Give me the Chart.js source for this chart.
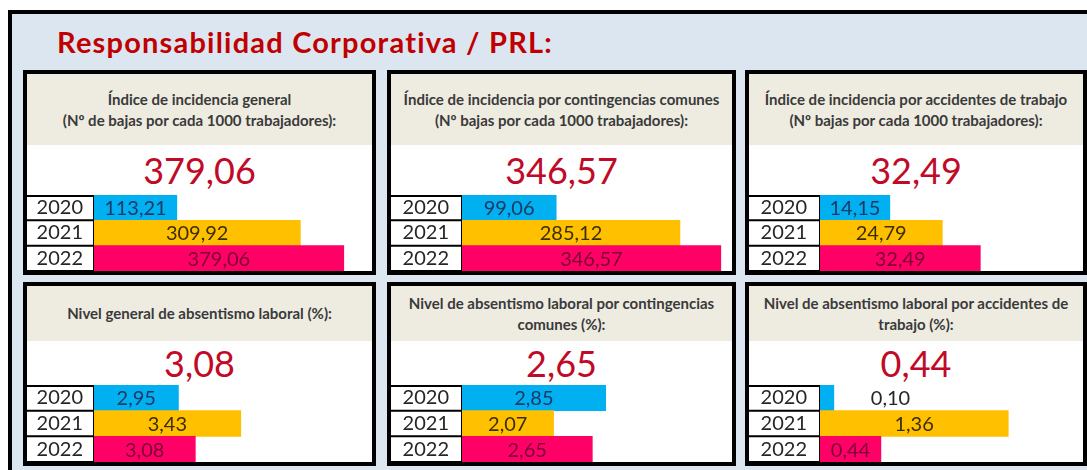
<!DOCTYPE html>
<html lang="es">
<head>
<meta charset="utf-8">
<title>Responsabilidad Corporativa / PRL</title>
<script src="https://cdn.jsdelivr.net/npm/chart.js@4.4.1/dist/chart.umd.min.js"></script>
<style>
  html, body { margin: 0; padding: 0; width: 1087px; height: 470px; overflow: hidden; background: #fff; font-family: Lato, sans-serif; }
  #frame { position: absolute; left: 8px; top: 10px; width: 1200px; height: 600px; border: 4px solid #000; background: #dce6f1; box-sizing: border-box; }
  #title { position: absolute; left: 57px; top: 27px; font: bold 29px/29px Lato, sans-serif; letter-spacing: 1.2px; color: #c00000; white-space: nowrap; }
  .panel { position: absolute; border: 4px solid #000; background: #fff; box-sizing: border-box; }
  .head { position: absolute; left: 0; right: 0; top: 0; background: #eeece1; display: flex; align-items: center; justify-content: center; text-align: center; font-weight: bold; font-size: 15px; line-height: 21px; color: #3a3a3a; }
  .big { position: absolute; left: 0; right: 0; text-align: center; font-size: 36px; line-height: 36px; color: #c00a28; }
  .panel canvas { position: absolute; left: 0; }
</style>
</head>
<body>
<div id="frame"></div>
<div id="title">Responsabilidad Corporativa / PRL:</div>
<div id="panels"></div>

<script>
// data
const years = ['2020', '2021', '2022'];
const incidenciaGeneral = [113.21, 309.92, 379.06];
const incidenciaComunes = [99.06, 285.12, 346.57];
const incidenciaAccidentes = [14.15, 24.79, 32.49];
const absentismoGeneral = [2.95, 3.43, 3.08];
const absentismoComunes = [2.85, 2.07, 2.65];
const absentismoAccidentes = [0.10, 1.36, 0.44];

const barColors = ['#00b0f0', '#ffc000', '#ff0066'];
const labelColors = ['#1f3864', '#3d2e00', '#7a0035'];

// panel setup (axis ranges mimic the Excel data bars)
const panels = [
  { head: ['Índice de incidencia general', '(Nº de bajas por cada 1000 trabajadores):'], values: incidenciaGeneral, min: -18.7, max: 424 },
  { head: ['Índice de incidencia por contingencias comunes', '(Nº bajas por cada 1000 trabajadores):'], values: incidenciaComunes, min: -42.6, max: 363.4 },
  { head: ['Índice de incidencia por accidentes de trabajo', '(Nº bajas por cada 1000 trabajadores):'], values: incidenciaAccidentes, min: 0, max: 53.3 },
  { head: ['Nivel general de absentismo laboral (%):'], values: absentismoGeneral, min: 2.30, max: 4.44 },
  { head: ['Nivel de absentismo laboral por contingencias', 'comunes (%):'], values: absentismoComunes, min: 0.70, max: 4.74 },
  { head: ['Nivel de absentismo laboral por accidentes de', 'trabajo (%):'], values: absentismoAccidentes, min: 0, max: 1.90 }
];

const cols = [{ x: 23, w: 353, axis: 67 }, { x: 387, w: 349, axis: 71 }, { x: 745, w: 342, axis: 71 }];
const rows = [{ y: 70, h: 205, head: 71, big: 78, chartTop: 121 }, { y: 282, h: 184, head: 55, big: 59, chartTop: 99 }];

Chart.defaults.font.family = 'Lato';

function fmt(v) {
  return v.toFixed(2).replace('.', ',');
}

// boxes around the year labels
const yearBoxes = {
  id: 'yearBoxes',
  afterDraw(chart) {
    const ctx = chart.ctx;
    const s = chart.scales.y;
    const n = s.ticks.length;
    ctx.save();
    ctx.strokeStyle = '#000';
    ctx.lineWidth = 2;
    ctx.beginPath();
    for (let i = 0; i <= n; i++) {
      let y;
      if (i === 0) y = chart.chartArea.top + 1;
      else if (i === n) y = chart.chartArea.bottom;
      else y = (s.getPixelForTick(i - 1) + s.getPixelForTick(i)) / 2;
      ctx.moveTo(s.left, y);
      ctx.lineTo(s.right, y);
    }
    ctx.stroke();
    ctx.restore();
  }
};

// value labels inside the bars
const barValues = {
  id: 'barValues',
  afterDatasetsDraw(chart) {
    const ctx = chart.ctx;
    const meta = chart.getDatasetMeta(0);
    const vals = chart.data.datasets[0].data;
    ctx.save();
    ctx.font = '20px Lato';
    ctx.textBaseline = 'middle';
    meta.data.forEach((bar, i) => {
      const txt = fmt(vals[i]);
      const w = ctx.measureText(txt).width;
      const len = bar.x - bar.base;
      if (w + 6 < len) {
        ctx.textAlign = 'center';
        ctx.fillStyle = labelColors[i];
        ctx.fillText(txt, (bar.x + bar.base) / 2, bar.y + 1);
      } else {
        ctx.textAlign = 'left';
        ctx.fillStyle = '#262626';
        ctx.fillText(txt, bar.x + 37, bar.y + 1);
      }
    });
    ctx.restore();
  }
};

const holder = document.getElementById('panels');

panels.forEach((p, k) => {
  const c = cols[k % 3];
  const r = rows[Math.floor(k / 3)];

  const div = document.createElement('div');
  div.className = 'panel';
  div.style.left = c.x + 'px';
  div.style.top = r.y + 'px';
  div.style.width = c.w + 'px';
  div.style.height = r.h + 'px';

  const head = document.createElement('div');
  head.className = 'head';
  head.style.height = r.head + 'px';
  head.innerHTML = '<div>' + p.head.join('<br>') + '</div>';
  div.appendChild(head);

  const big = document.createElement('div');
  big.className = 'big';
  big.style.top = r.big + 'px';
  big.textContent = fmt(p.values[p.values.length - 1]);
  div.appendChild(big);

  const canvas = document.createElement('canvas');
  canvas.width = c.w - 8;
  canvas.height = r.h - 8 - r.chartTop;
  canvas.style.top = r.chartTop + 'px';
  div.appendChild(canvas);
  holder.appendChild(div);

  new Chart(canvas.getContext('2d'), {
    type: 'bar',
    data: {
      labels: years,
      datasets: [{
        data: p.values,
        backgroundColor: barColors,
        borderWidth: 0,
        barPercentage: 1,
        categoryPercentage: 1,
        base: p.min
      }]
    },
    options: {
      indexAxis: 'y',
      responsive: false,
      animation: false,
      layout: { padding: 0 },
      plugins: { legend: { display: false }, tooltip: { enabled: false } },
      scales: {
        x: { display: false, min: p.min, max: p.max },
        y: {
          afterFit(scale) {
            scale.width = c.axis;
            scale.paddingTop = 0;
            scale.paddingBottom = 0;
          },
          grid: { display: true, drawOnChartArea: false, drawTicks: false, color: 'transparent' },
          border: { display: true, color: '#000', width: 2 },
          ticks: {
            color: '#262626',
            font: { size: 20 },
            crossAlign: 'center',
            padding: Math.round((c.axis - 46) / 2),
            autoSkip: false
          }
        }
      }
    },
    plugins: [yearBoxes, barValues]
  });
});
</script>
</body>
</html>
